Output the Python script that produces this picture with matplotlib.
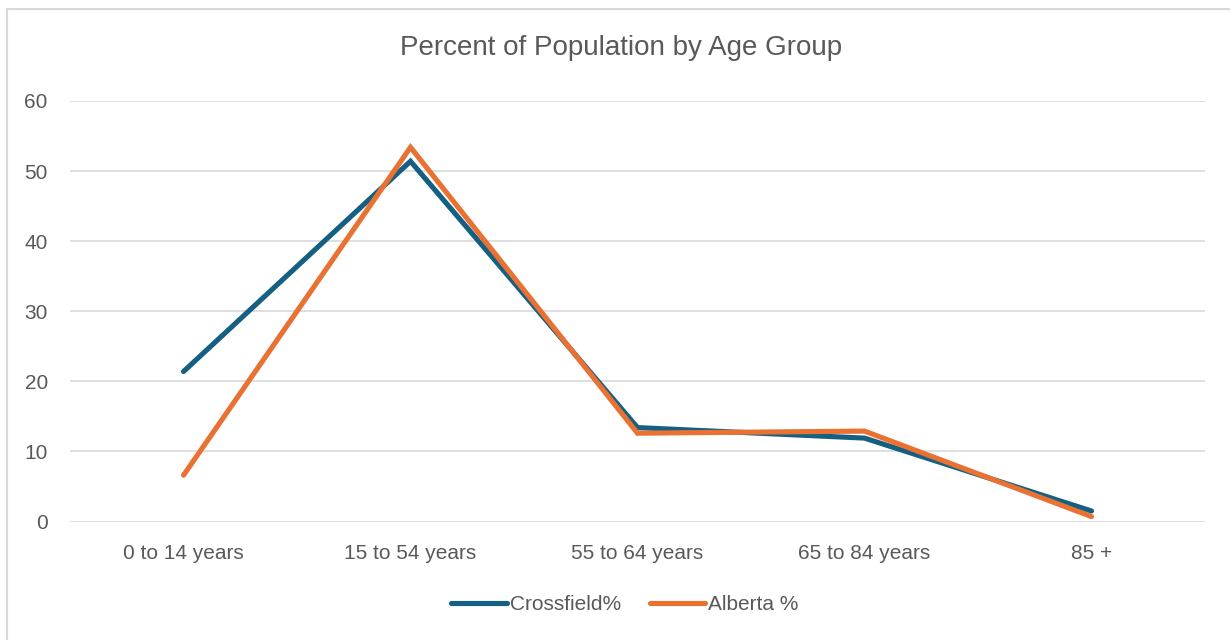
import matplotlib.pyplot as plt
import matplotlib.patches as patches

age_groups = ['0 to 14 years', '15 to 54 years', '55 to 64 years', '65 to 84 years', '85 +']
crossfield_pct = [21.4, 51.4, 13.4, 11.9, 1.5]
alberta_pct = [6.6, 53.4, 12.6, 12.9, 0.7]
y_ticks = [0, 10, 20, 30, 40, 50, 60]

text_color = '#595959'
plt.rcParams['font.family'] = ['Liberation Sans', 'DejaVu Sans']

fig = plt.figure(figsize=(12.3, 6.4), dpi=100)
ax = fig.add_axes([70 / 1230, (640 - 521.5) / 640, (1205 - 70) / 1230, (521.5 - 101) / 640])

x = range(len(age_groups))
ax.plot(x, crossfield_pct, color='#156082', lw=3.7, solid_capstyle='round',
        solid_joinstyle='miter', label='Crossfield%', zorder=3)
ax.plot(x, alberta_pct, color='#E97132', lw=3.7, solid_capstyle='round',
        solid_joinstyle='miter', label='Alberta %', zorder=4)

ax.set_xlim(-0.5, len(age_groups) - 0.5)
ax.set_ylim(0, 60)
ax.set_yticks(y_ticks)
ax.set_xticks(list(x))
ax.set_xticklabels(age_groups)
ax.grid(axis='y', color='#d9d9d9', lw=1.2, zorder=0)
ax.set_axisbelow(True)
for s in ax.spines.values():
    s.set_visible(False)
ax.tick_params(axis='both', length=0, labelsize=15, labelcolor=text_color)
ax.tick_params(axis='x', pad=16)
ax.tick_params(axis='y', pad=16)

fig.text(621 / 1230, 1 - 48 / 640, 'Percent of Population by Age Group', ha='center', va='center',
         fontsize=20, color=text_color)

leg = fig.legend(loc='center', bbox_to_anchor=(625 / 1230, 1 - 605 / 640), ncol=2, frameon=False,
                 fontsize=15, handlelength=2.65, handletextpad=0.15, columnspacing=1.4)
for t in leg.get_texts():
    t.set_color(text_color)

# light frame around the chart area
fig.patches.append(patches.Rectangle((6.5 / 1230, -0.1), 1.2, 1 - 8.5 / 640 + 0.1,
                                     transform=fig.transFigure, fill=False,
                                     edgecolor='#d9d9d9', lw=1.5))

fig.savefig('out.png', dpi=100)
